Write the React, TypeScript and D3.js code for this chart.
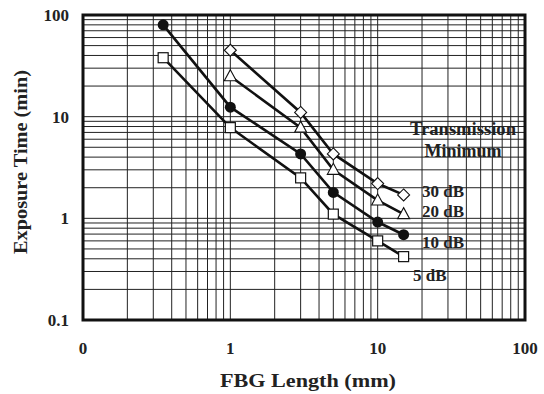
import * as d3 from 'd3';

const lengths5 = [0.35, 1, 3, 5, 10, 15];
const time5 = [38, 7.8, 2.5, 1.1, 0.6, 0.42];
const lengths10 = [0.35, 1, 3, 5, 10, 15];
const time10 = [80, 12.4, 4.3, 1.8, 0.92, 0.69];
const lengths20 = [1, 3, 5, 10, 15];
const time20 = [25, 7.8, 3.0, 1.5, 1.1];
const lengths30 = [1, 3, 5, 10, 15];
const time30 = [45, 11, 4.3, 2.2, 1.7];

const xTickLabels = ['0', '1', '10', '100'];
const yTickLabels = ['0.1', '1', '10', '100'];
const seriesLabels = ['30 dB', '20 dB', '10 dB', '5 dB'];

const FONT = "'Liberation Serif', 'Times New Roman', serif";

type Marker = 'square' | 'circle' | 'triangle' | 'diamond';

export default function App() {
  const width = 544;
  const height = 394;
  const margin = { top: 15, right: 19, bottom: 74, left: 83 };
  const innerW = width - margin.left - margin.right;
  const innerH = height - margin.top - margin.bottom;

  const x = d3.scaleLog().domain([0.1, 100]).range([0, innerW]);
  const y = d3.scaleLog().domain([0.1, 100]).range([innerH, 0]);

  const gridVals: number[] = [];
  [0.1, 1, 10].forEach((dec) => {
    for (let k = 1; k <= 10; k++) gridVals.push(dec * k);
  });
  const grid = Array.from(new Set(gridVals.map((v) => +v.toPrecision(3))));

  const series: { xs: number[]; ys: number[]; marker: Marker }[] = [
    { xs: lengths5, ys: time5, marker: 'square' },
    { xs: lengths10, ys: time10, marker: 'circle' },
    { xs: lengths20, ys: time20, marker: 'triangle' },
    { xs: lengths30, ys: time30, marker: 'diamond' },
  ];

  const line = d3
    .line<[number, number]>()
    .x((d) => x(d[0]))
    .y((d) => y(d[1]));

  const drawMarker = (m: Marker, cx: number, cy: number, key: string) => {
    if (m === 'square')
      return (
        <rect key={key} x={cx - 5} y={cy - 5} width={10} height={10}
          fill='#fff' stroke='#111' strokeWidth={1.2} />
      );
    if (m === 'circle')
      return <circle key={key} cx={cx} cy={cy} r={5.5} fill='#111' />;
    if (m === 'triangle')
      return (
        <path key={key} d={`M${cx},${cy - 6.5}L${cx + 6},${cy + 4.5}L${cx - 6},${cy + 4.5}Z`}
          fill='#fff' stroke='#111' strokeWidth={1.1} />
      );
    return (
      <path key={key} d={`M${cx},${cy - 6}L${cx + 6},${cy}L${cx},${cy + 6}L${cx - 6},${cy}Z`}
        fill='#fff' stroke='#111' strokeWidth={1.1} />
    );
  };

  const majors = [0.1, 1, 10, 100];

  return (
    <svg width={width} height={height} style={{ position: 'absolute', left: 0, top: 0, background: '#fff' }}
      fontFamily={FONT} fontWeight='bold'>
      <g transform={`translate(${margin.left},${margin.top})`}>
        {/* Grid */}
        {grid.map((v) => (
          <line key={`gx${v}`} x1={x(v)} x2={x(v)} y1={0} y2={innerH} stroke='#222' strokeWidth={1} />
        ))}
        {grid.map((v) => (
          <line key={`gy${v}`} x1={0} x2={innerW} y1={y(v)} y2={y(v)} stroke='#222' strokeWidth={1} />
        ))}

        {/* Series */}
        {series.map((s, i) => (
          <path key={`l${i}`} d={line(s.xs.map((v, j) => [v, s.ys[j]]) as [number, number][]) ?? ''}
            fill='none' stroke='#111' strokeWidth={2.6} />
        ))}
        {series.map((s, i) => s.xs.map((v, j) => drawMarker(s.marker, x(v), y(s.ys[j]), `m${i}-${j}`)))}

        {/* Frame */}
        <rect x={0} y={0} width={innerW} height={innerH} fill='none' stroke='#111' strokeWidth={3} />

        {/* Tick labels */}
        {majors.map((v, i) => (
          <text key={`yt${v}`} x={-14} y={y(v)} dy='0.35em' textAnchor='end' fontSize={17} fill='#222'>
            {yTickLabels[i]}
          </text>
        ))}
        {majors.map((v, i) => (
          <text key={`xt${v}`} x={x(v)} y={innerH + 34} textAnchor='middle' fontSize={17} fill='#222'>
            {xTickLabels[i]}
          </text>
        ))}

        {/* Annotation */}
        <text x={380} y={120} textAnchor='middle' fontSize={18} textLength={106} lengthAdjust='spacingAndGlyphs' fill='#222'>Transmission</text>
        <text x={380} y={142} textAnchor='middle' fontSize={18} fill='#222'>Minimum</text>
        <text x={339} y={182} fontSize={17} fill='#222'>{seriesLabels[0]}</text>
        <text x={339} y={202} fontSize={17} fill='#222'>{seriesLabels[1]}</text>
        <text x={339} y={233} fontSize={17} fill='#222'>{seriesLabels[2]}</text>
        <text x={330} y={266} fontSize={17} fill='#222'>{seriesLabels[3]}</text>
      </g>

      {/* Axis titles */}
      <text x={308} y={387} textAnchor='middle' fontSize={19} textLength={176}
        lengthAdjust='spacingAndGlyphs' fill='#222'>FBG Length (mm)</text>
      <text transform={`translate(27,162) rotate(-90)`} textAnchor='middle'
        fontSize={19} textLength={184} lengthAdjust='spacingAndGlyphs' fill='#222'>Exposure Time (min)</text>
    </svg>
  );
}
